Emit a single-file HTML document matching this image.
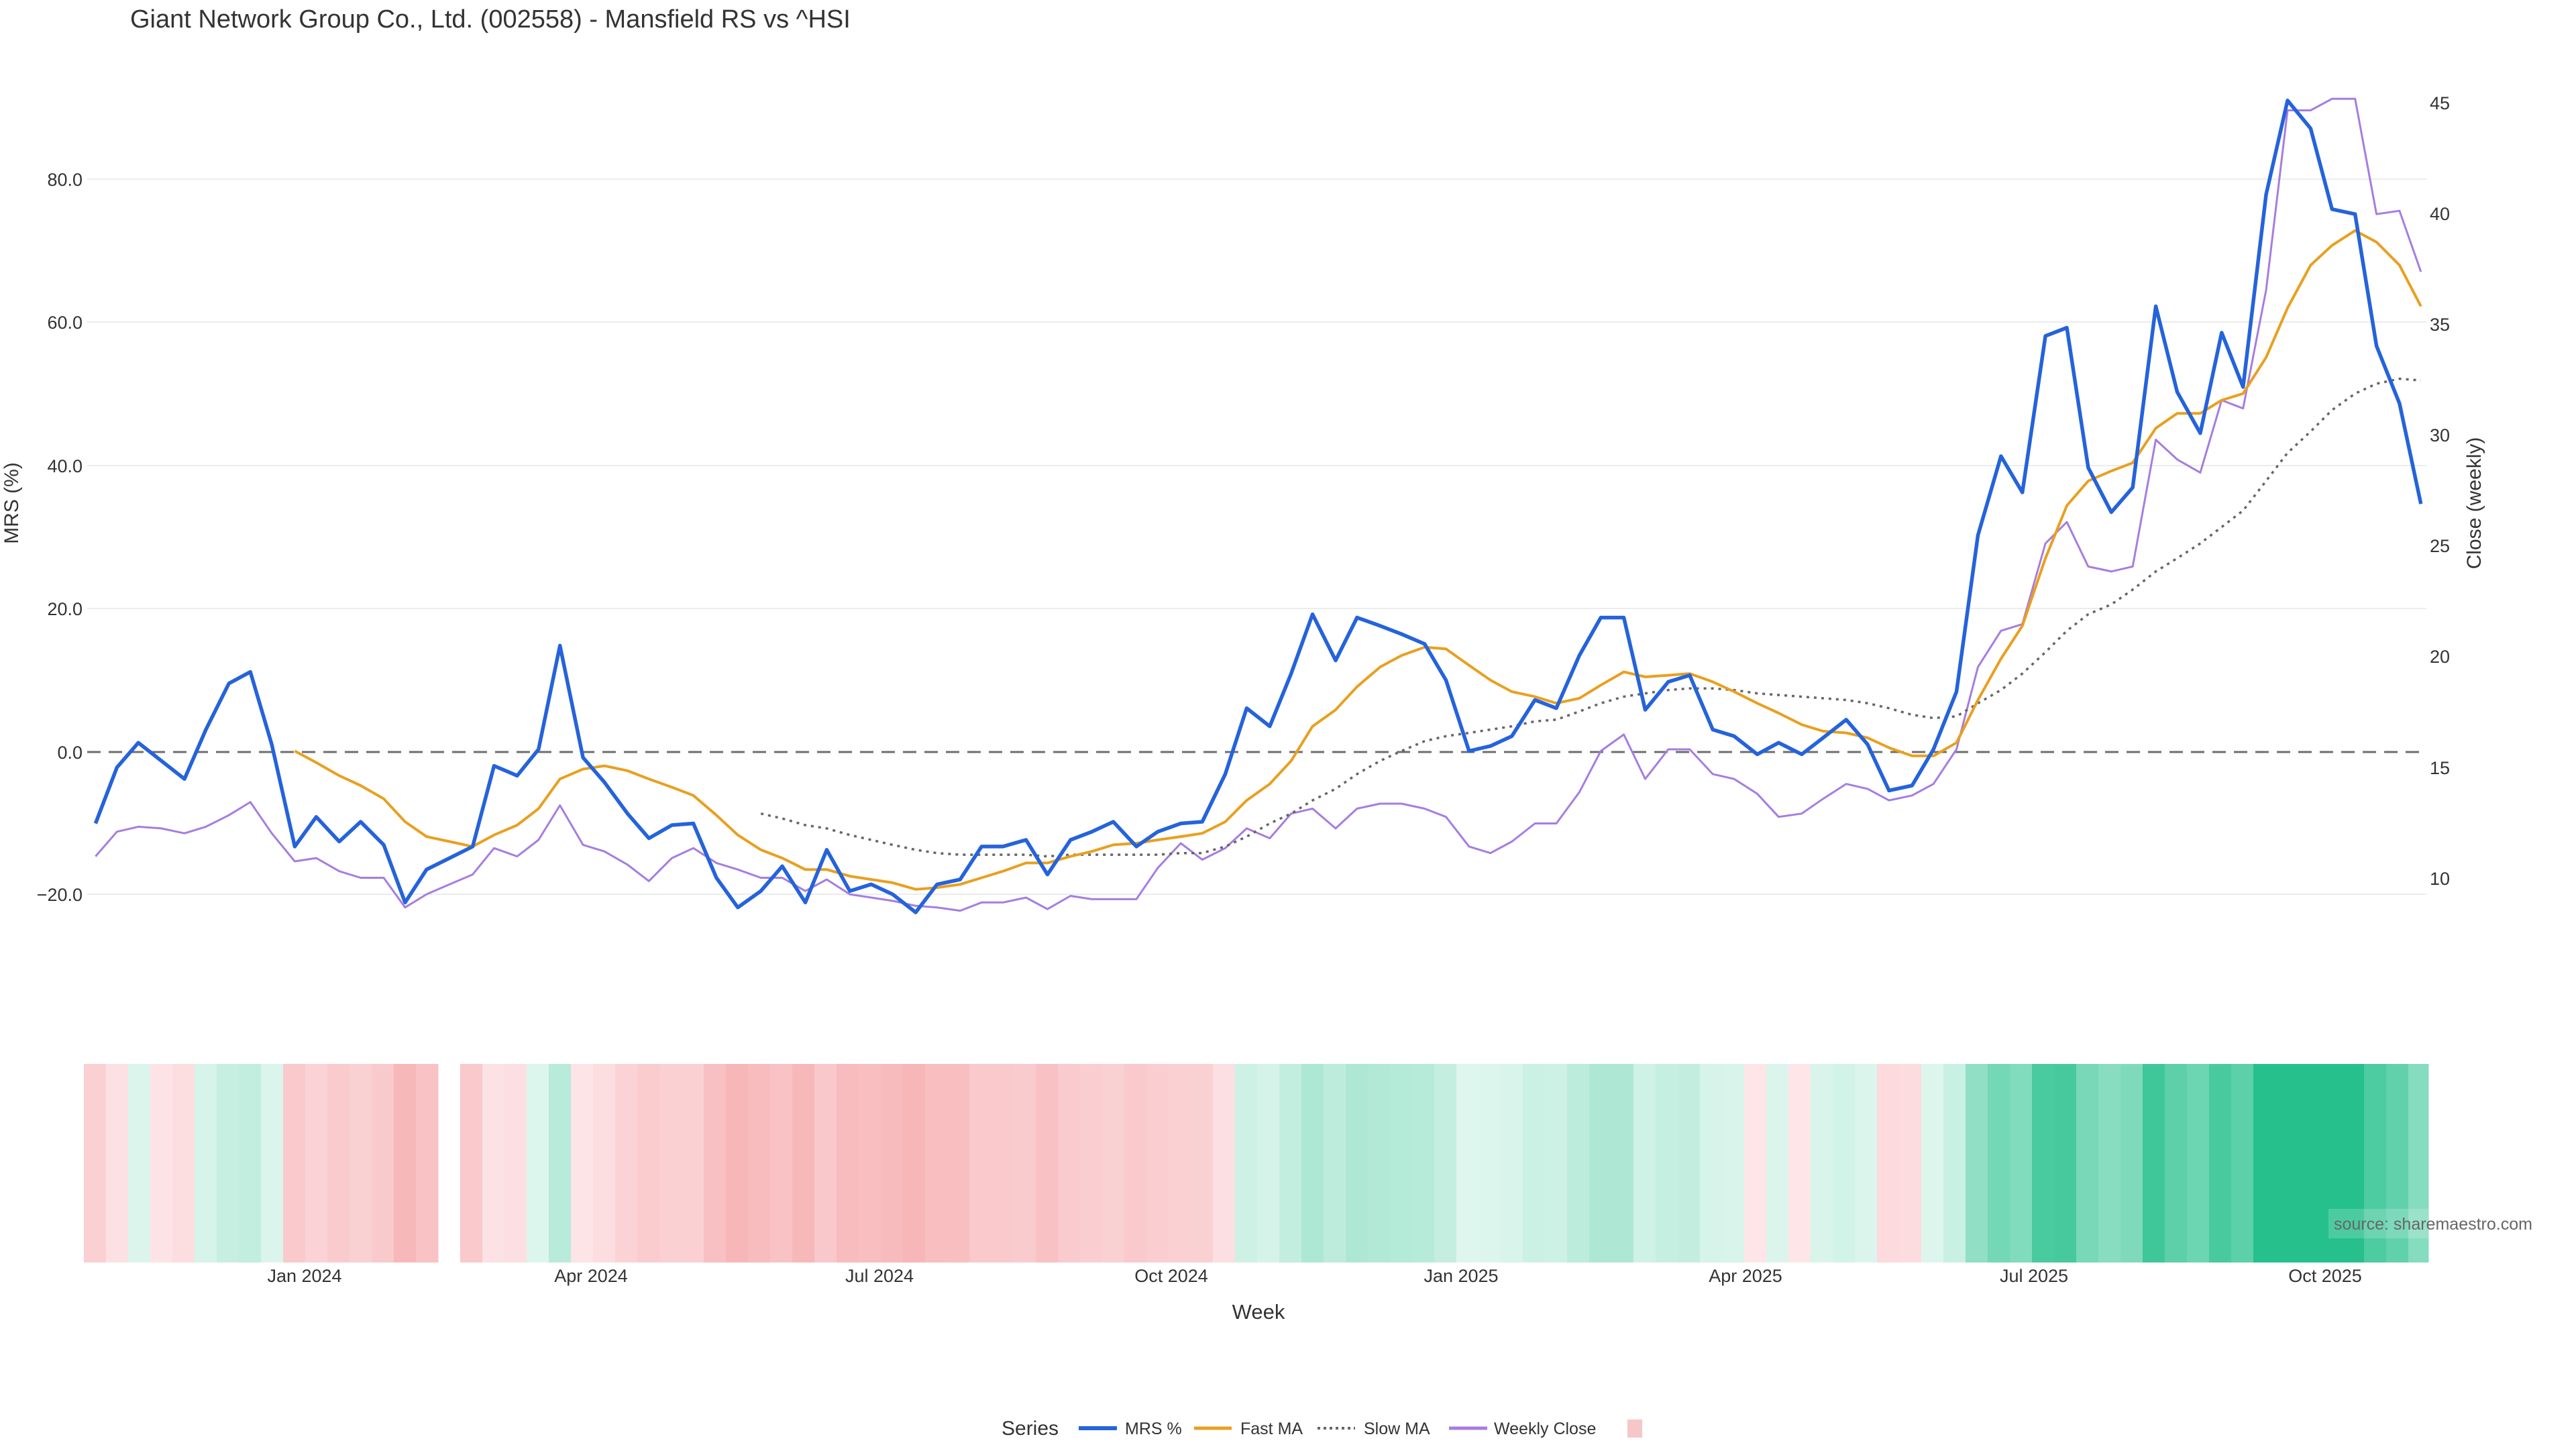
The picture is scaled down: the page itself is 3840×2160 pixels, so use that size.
<!DOCTYPE html>
<html><head><meta charset="utf-8"><style>
html,body{margin:0;padding:0;background:#fff;}
svg{display:block;font-family:"Liberation Sans","DejaVu Sans",sans-serif;}
</style></head><body>
<svg id="s" width="3840" height="2160" viewBox="0 0 3840 2160" xmlns="http://www.w3.org/2000/svg">
<rect width="3840" height="2160" fill="#fff"/>
<text x="194" y="41" font-size="38" fill="#333">Giant Network Group Co., Ltd. (002558) - Mansfield RS vs ^HSI</text>
<g stroke="#ececec" stroke-width="2">
<line x1="130" x2="3617" y1="267" y2="267"/>
<line x1="130" x2="3617" y1="480" y2="480"/>
<line x1="130" x2="3617" y1="694" y2="694"/>
<line x1="130" x2="3617" y1="907" y2="907"/>
<line x1="130" x2="3617" y1="1333" y2="1333"/>
</g>
<line x1="130" x2="3617" y1="1121" y2="1121" stroke="#6e6e6e" stroke-width="3" stroke-dasharray="20,12"/>
<g font-size="27" fill="#333" text-anchor="end">
<text x="123" y="277">80.0</text><text x="123" y="490">60.0</text><text x="123" y="704">40.0</text>
<text x="123" y="917">20.0</text><text x="123" y="1131">0.0</text><text x="123" y="1343">−20.0</text>
</g>
<g font-size="27" fill="#333">
<text x="3622" y="163">45</text><text x="3622" y="328">40</text><text x="3622" y="493">35</text>
<text x="3622" y="658">30</text><text x="3622" y="823">25</text><text x="3622" y="988">20</text>
<text x="3622" y="1154">15</text><text x="3622" y="1319">10</text>
</g>
<text transform="translate(27,750) rotate(-90)" font-size="30" fill="#333" text-anchor="middle">MRS (%)</text>
<text transform="translate(3698,750) rotate(-90)" font-size="30" fill="#333" text-anchor="middle">Close (weekly)</text>
<g id="heat"></g>
<g id="lines"></g>
<rect x="3471" y="1802" width="157" height="44" fill="#fff" fill-opacity="0.18"/>
<text x="3479" y="1833" font-size="25" fill="#666">source: sharemaestro.com</text>
<g font-size="27" fill="#333" text-anchor="middle">
<text x="454" y="1911">Jan 2024</text><text x="881" y="1911">Apr 2024</text>
<text x="1311" y="1911">Jul 2024</text><text x="1746" y="1911">Oct 2024</text>
<text x="2178" y="1911">Jan 2025</text><text x="2602" y="1911">Apr 2025</text>
<text x="3032" y="1911">Jul 2025</text><text x="3466" y="1911">Oct 2025</text>
</g>
<text x="1876" y="1966" font-size="31" fill="#333" text-anchor="middle">Week</text>
<text x="1493" y="2139" font-size="30" fill="#333">Series</text>
<line x1="1608" x2="1665" y1="2129" y2="2129" stroke="#2563db" stroke-width="6"/>
<text x="1677" y="2138" font-size="25" fill="#333">MRS %</text>
<line x1="1780" x2="1836" y1="2129" y2="2129" stroke="#e8a020" stroke-width="5"/>
<text x="1849" y="2138" font-size="25" fill="#333">Fast MA</text>
<line x1="1964" x2="2020" y1="2129" y2="2129" stroke="#666" stroke-width="4" stroke-dasharray="4,5"/>
<text x="2033" y="2138" font-size="25" fill="#333">Slow MA</text>
<line x1="2160" x2="2217" y1="2129" y2="2129" stroke="#a67de0" stroke-width="5"/>
<text x="2227" y="2138" font-size="25" fill="#333">Weekly Close</text>
<rect x="2426" y="2116" width="22" height="27" fill="#f7c6c8"/>
</svg>
<script>
var S=2.455;
var blue=[[58,500],[71,466],[84,451],[98,462],[112,473],[125,443],[139,415],[152,408],[165,452],[179,514],[192,496],[206,511],[219,499],[233,513],[246,548],[259,528],[273,521],[287,514],[300,465],[314,471],[327,455],[340,392],[354,460],[367,475],[381,494],[394,509],[408,501],[421,500],[435,533],[448,551],[462,541],[475,526],[489,548],[502,516],[516,541],[529,537],[542,543],[556,554],[569,537],[583,534],[596,514],[609,514],[623,510],[636,531],[650,510],[663,505],[676,499],[690,514],[703,505],[717,500],[730,499],[744,470],[757,430],[771,441],[784,409],[797,373],[811,401],[824,375],[838,380],[851,385],[865,391],[878,413],[892,456],[905,453],[918,447],[932,425],[945,430],[959,398],[972,375],[986,375],[999,431],[1013,414],[1026,410],[1040,443],[1053,447],[1067,458],[1080,451],[1094,458],[1107,448],[1121,437],[1134,452],[1147,480],[1161,477],[1174,455],[1188,420],[1201,325],[1215,277],[1228,299],[1242,204],[1255,199],[1268,284],[1282,311],[1295,296],[1309,186],[1322,238],[1336,263],[1349,202],[1362,235],[1376,118],[1389,61],[1403,78],[1416,127],[1430,130],[1443,210],[1457,245],[1470,306]];
var orange=[[179,456],[192,463],[206,471],[219,477],[233,485],[246,499],[259,508],[273,511],[287,514],[300,507],[314,501],[327,491],[340,473],[354,467],[367,465],[381,468],[394,473],[408,478],[421,483],[435,495],[448,507],[462,516],[475,521],[489,528],[502,528],[516,532],[529,534],[542,536],[556,540],[569,539],[583,537],[596,533],[609,529],[623,524],[636,524],[650,520],[663,517],[676,513],[690,512],[703,510],[717,508],[730,506],[744,499],[757,486],[771,476],[784,462],[797,441],[811,431],[824,417],[838,405],[851,398],[865,393],[878,394],[892,404],[905,413],[918,420],[932,423],[945,427],[959,424],[972,416],[986,408],[999,411],[1013,410],[1026,409],[1040,414],[1053,420],[1067,427],[1080,433],[1094,440],[1107,444],[1121,445],[1134,448],[1147,454],[1161,459],[1174,459],[1188,451],[1201,425],[1215,400],[1228,380],[1242,339],[1255,307],[1268,292],[1282,286],[1295,281],[1309,260],[1322,251],[1336,251],[1349,243],[1362,239],[1376,217],[1389,187],[1403,161],[1416,149],[1430,140],[1443,147],[1457,161],[1470,186]];
var slow=[[462,494],[475,497],[489,501],[502,503],[516,507],[529,510],[542,513],[556,516],[569,518],[583,519],[596,519],[609,519],[623,519],[636,520],[650,519],[663,519],[676,519],[690,519],[703,519],[717,518],[730,518],[744,514],[757,508],[771,500],[784,494],[797,486],[811,479],[824,470],[838,462],[851,456],[865,450],[878,447],[892,445],[905,443],[918,441],[932,438],[945,437],[959,432],[972,427],[986,423],[999,421],[1013,419],[1026,418],[1040,418],[1053,419],[1067,421],[1080,422],[1094,423],[1107,424],[1121,425],[1134,427],[1147,430],[1161,434],[1174,436],[1188,435],[1201,427],[1215,419],[1228,409],[1242,396],[1255,383],[1268,373],[1282,367],[1295,358],[1309,347],[1322,339],[1336,330],[1349,320],[1362,310],[1376,292],[1389,275],[1403,262],[1416,249],[1430,239],[1443,233],[1457,230],[1470,231]];
var purple=[[58,520],[71,505],[84,502],[98,503],[112,506],[125,502],[139,495],[152,487],[165,506],[179,523],[192,521],[206,529],[219,533],[233,533],[246,551],[259,543],[273,537],[287,531],[300,515],[314,520],[327,510],[340,489],[354,513],[367,517],[381,525],[394,535],[408,521],[421,515],[435,524],[448,528],[462,533],[475,533],[489,541],[502,534],[516,543],[529,545],[542,547],[556,550],[569,551],[583,553],[596,548],[609,548],[623,545],[636,552],[650,544],[663,546],[676,546],[690,546],[703,527],[717,512],[730,522],[744,515],[757,503],[771,509],[784,494],[797,491],[811,503],[824,491],[838,488],[851,488],[865,491],[878,496],[892,514],[905,518],[918,511],[932,500],[945,500],[959,481],[972,456],[986,446],[999,473],[1013,455],[1026,455],[1040,470],[1053,473],[1067,482],[1080,496],[1094,494],[1107,485],[1121,476],[1134,479],[1147,486],[1161,483],[1174,476],[1188,455],[1201,405],[1215,383],[1228,379],[1242,330],[1255,317],[1268,344],[1282,347],[1295,344],[1309,267],[1322,279],[1336,287],[1349,243],[1362,248],[1376,176],[1389,67],[1403,67],[1416,60],[1430,60],[1443,130],[1457,128],[1470,165]];
var NS="http://www.w3.org/2000/svg";
function pts(a){return a.map(function(p){return (p[0]*S).toFixed(1)+","+(p[1]*S).toFixed(1)}).join(" ");}
function pl(a,col,w,dash){var e=document.createElementNS(NS,"polyline");e.setAttribute("points",pts(a));e.setAttribute("fill","none");e.setAttribute("stroke",col);e.setAttribute("stroke-width",w);e.setAttribute("stroke-linejoin","round");if(dash)e.setAttribute("stroke-dasharray",dash);document.getElementById("lines").appendChild(e);}
pl(purple,"#a67de0",3);
pl(slow,"#666",3.5,"4,7");
pl(orange,"#e8a020",4);
pl(blue,"#2563db",5.5);
var h=document.getElementById("heat");
function lerp(a,b,t){return [0,1,2].map(function(k){return Math.round(a[k]+(b[k]-a[k])*t)});}
for(var i=0;i<blue.length;i++){
  if(i==16)continue;
  var v=(1121-blue[i][1]*S)/10.66;
  var c;
  if(v<0){var t=Math.min(-v/22,1);c=lerp([253,230,233],[247,182,184],t);}
  else{var t=Math.min(v/72,1);c=lerp([222,246,238],[38,192,140],t);}
  var r=document.createElementNS(NS,"rect");
  var x0=125+33*i,x1=Math.min(125+33*(i+1),3620);
  r.setAttribute("x",x0);r.setAttribute("y",1586);r.setAttribute("width",x1-x0+0.5);r.setAttribute("height",296);
  r.setAttribute("fill","rgb("+c.join(",")+")");h.appendChild(r);
}
</script>
</body></html>
